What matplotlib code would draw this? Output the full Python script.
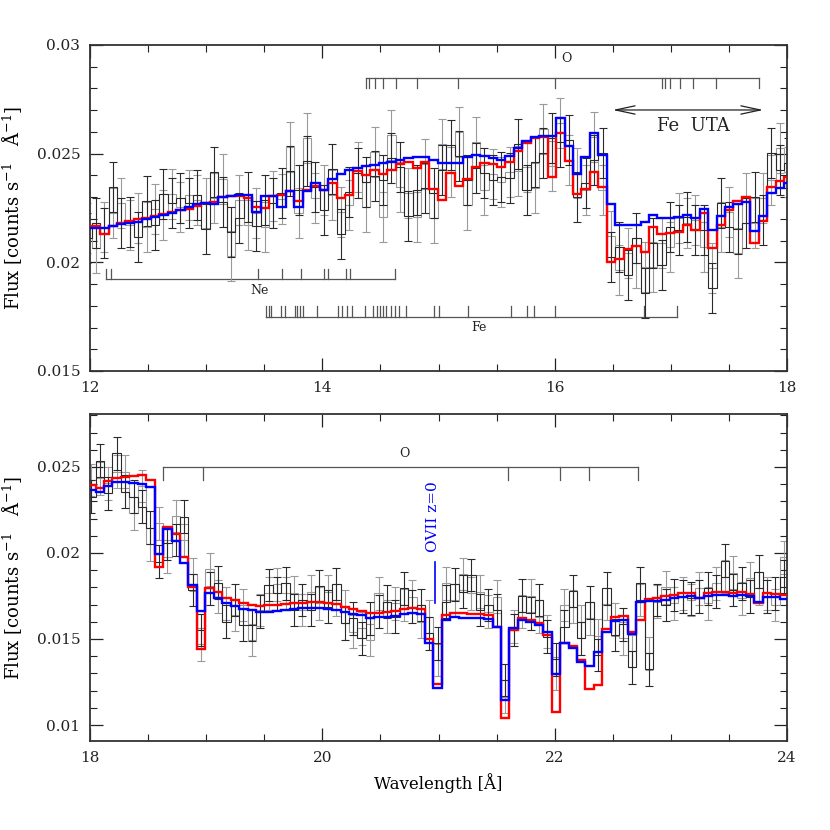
import numpy as np
import matplotlib
matplotlib.use('Agg')
import matplotlib.pyplot as plt
from matplotlib.ticker import MultipleLocator, FuncFormatter

plt.rcParams['font.family'] = ['DejaVu Serif', 'DejaVu Sans']
plt.rcParams['mathtext.fontset'] = 'dejavuserif'

# ---------------- binning (read from the step positions) ----------------
BIN_START = 12.014
BIN_WIDTH = 0.0727
top_edges = BIN_START + BIN_WIDTH * np.arange(-1, 84)
bot_edges = BIN_START + BIN_WIDTH * np.arange(82, 166)

# ---------------- top panel (12-18 A) ----------------
top_hi = [0.0216, 0.02180, 0.02164, 0.02345, 0.02272, 0.02187, 0.02203, 0.02282, 0.02245, 0.02314,
          0.02314, 0.02295, 0.02310, 0.02310, 0.02272, 0.02417, 0.02384, 0.02141, 0.02287, 0.02302,
          0.02226, 0.02287, 0.02305, 0.02318, 0.02529, 0.02333, 0.02574, 0.02348, 0.02333, 0.02429,
          0.02230, 0.02325, 0.02440, 0.02371, 0.02506, 0.02379, 0.02586, 0.02440, 0.02318, 0.02333,
          0.02453, 0.02321, 0.02543, 0.02540, 0.02598, 0.02379, 0.02552, 0.02410, 0.02405, 0.02391,
          0.02417, 0.02543, 0.02437, 0.02463, 0.02612, 0.02571, 0.02640, 0.02563, 0.02410, 0.02367,
          0.02578, 0.02502, 0.02123, 0.02072, 0.02042, 0.02111, 0.01980, 0.02088, 0.02088, 0.02164,
          0.02203, 0.02210, 0.02195, 0.02149, 0.01972, 0.02275, 0.02233, 0.02152, 0.02295, 0.02302,
          0.02295, 0.02502, 0.02525, 0.02456]
top_lo = [0.0211, 0.02064, 0.02134, 0.02226, 0.02180, 0.02172, 0.02118, 0.02164, 0.02172, 0.02218,
          0.02272, 0.02256, 0.02272, 0.02287, 0.02152, 0.02295, 0.02279, 0.02031, 0.02203, 0.02172,
          0.02167, 0.02164, 0.02275, 0.02290, 0.02420, 0.02229, 0.02466, 0.02295, 0.02241, 0.02310,
          0.02130, 0.02264, 0.02410, 0.02256, 0.02397, 0.02210, 0.02479, 0.02348, 0.02215, 0.02210,
          0.02341, 0.02206, 0.02425, 0.02417, 0.02491, 0.02264, 0.02433, 0.02333, 0.02379, 0.02371,
          0.02390, 0.02420, 0.02333, 0.02341, 0.02502, 0.02445, 0.02555, 0.02471, 0.02302, 0.02333,
          0.02471, 0.02333, 0.02026, 0.01965, 0.01942, 0.01995, 0.01857, 0.01980, 0.01988, 0.02072,
          0.02149, 0.02180, 0.02149, 0.02072, 0.01880, 0.02164, 0.02164, 0.02042, 0.02180, 0.02180,
          0.02195, 0.02379, 0.02425, 0.02417]
top_red = [0.02169, 0.02169, 0.02130, 0.02167, 0.02180, 0.02190, 0.02198, 0.02204, 0.02213, 0.02222,
           0.02230, 0.02241, 0.02245, 0.02261, 0.02275, 0.02279, 0.02302, 0.02305, 0.02305, 0.02295,
           0.02253, 0.02249, 0.02305, 0.02310, 0.02328, 0.02284, 0.02333, 0.02351, 0.02333, 0.02364,
           0.02295, 0.02310, 0.02420, 0.02402, 0.02425, 0.02405, 0.02425, 0.02453, 0.02463, 0.02436,
           0.02463, 0.02336, 0.02287, 0.02410, 0.02353, 0.02382, 0.02440, 0.02456, 0.02453, 0.02440,
           0.02460, 0.02512, 0.02548, 0.02574, 0.02578, 0.02394, 0.02594, 0.02468, 0.02313, 0.02337,
           0.02417, 0.02345, 0.02000, 0.02015, 0.02061, 0.02075, 0.02046, 0.02164, 0.02129, 0.02134,
           0.02141, 0.02172, 0.02149, 0.02226, 0.02065, 0.02172, 0.02241, 0.02282, 0.02302, 0.02091,
           0.02192, 0.02345, 0.02374, 0.02391]
top_blue = [0.02157, 0.02157, 0.02157, 0.02167, 0.02175, 0.02183, 0.02187, 0.02198, 0.02210, 0.02219,
            0.02225, 0.02241, 0.02256, 0.02268, 0.02275, 0.02267, 0.02299, 0.02307, 0.02308, 0.02308,
            0.02233, 0.02307, 0.02305, 0.02256, 0.02328, 0.02253, 0.02328, 0.02364, 0.02333, 0.02382,
            0.02407, 0.02425, 0.02436, 0.02443, 0.02449, 0.02456, 0.02462, 0.02471, 0.02480, 0.02483,
            0.02483, 0.02471, 0.02459, 0.02456, 0.02456, 0.02486, 0.02492, 0.02491, 0.02482, 0.02471,
            0.02489, 0.02528, 0.02558, 0.02578, 0.02583, 0.02581, 0.02666, 0.02535, 0.02407, 0.02486,
            0.02597, 0.02494, 0.02267, 0.02172, 0.02172, 0.02172, 0.02184, 0.02218, 0.02203, 0.02206,
            0.02210, 0.02216, 0.02206, 0.02244, 0.02149, 0.02213, 0.02253, 0.02267, 0.02276, 0.02144,
            0.02213, 0.02318, 0.02344, 0.02364]
top_err = 0.00115

# ---------------- bottom panel (18-24 A) ----------------
bot_hi = [0.02424, 0.02537, 0.02405, 0.02579, 0.02473, 0.02327, 0.02390, 0.02147, 0.02172, 0.02056,
          0.02215, 0.02211, 0.01876, 0.01552, 0.01905, 0.01828, 0.01707, 0.01727, 0.01698, 0.01581,
          0.01669, 0.01814, 0.01818, 0.01824, 0.01769, 0.01727, 0.01775, 0.01808, 0.01775, 0.01820,
          0.01688, 0.01620, 0.01562, 0.01620, 0.01765, 0.01717, 0.01707, 0.01795, 0.01746, 0.01698,
          0.01630, 0.01475, 0.01824, 0.01818, 0.01878, 0.01872, 0.01775, 0.01698, 0.01746, 0.01262,
          0.01572, 0.01752, 0.01752, 0.01727, 0.01543, 0.01382, 0.01698, 0.01779, 0.01601, 0.01713,
          0.01519, 0.01795, 0.01614, 0.01585, 0.01430, 0.01824, 0.01417, 0.01727, 0.01800, 0.01756,
          0.01765, 0.01736, 0.01795, 0.01795, 0.01824, 0.01955, 0.01886, 0.01824, 0.01853, 0.01891,
          0.01765, 0.01765, 0.01975]
bot_lo = [0.02327, 0.02434, 0.02347, 0.02473, 0.02357, 0.02231, 0.02269, 0.02050, 0.01950, 0.01979,
          0.02075, 0.02075, 0.01785, 0.01469, 0.01795, 0.01746, 0.01601, 0.01640, 0.01581, 0.01494,
          0.01659, 0.01765, 0.01765, 0.01765, 0.01669, 0.01669, 0.01669, 0.01707, 0.01688, 0.01727,
          0.01591, 0.01543, 0.01504, 0.01494, 0.01659, 0.01630, 0.01630, 0.01698, 0.01688, 0.01601,
          0.01533, 0.01378, 0.01717, 0.01727, 0.01775, 0.01765, 0.01669, 0.01659, 0.01669, 0.01165,
          0.01552, 0.01659, 0.01649, 0.01630, 0.01513, 0.01300, 0.01572, 0.01688, 0.01504, 0.01620,
          0.01407, 0.01703, 0.01523, 0.01504, 0.01335, 0.01727, 0.01324, 0.01717, 0.01698, 0.01707,
          0.01746, 0.01727, 0.01746, 0.01707, 0.01775, 0.01862, 0.01785, 0.01736, 0.01746, 0.01795,
          0.01746, 0.01698, 0.01862]
bot_red = [0.02395, 0.02380, 0.02419, 0.02438, 0.02444, 0.02448, 0.02452, 0.02424, 0.01917, 0.02149,
           0.02110, 0.01975, 0.01804, 0.01440, 0.01797, 0.01771, 0.01740, 0.01727, 0.01707, 0.01698,
           0.01694, 0.01696, 0.01698, 0.01703, 0.01707, 0.01711, 0.01715, 0.01715, 0.01711, 0.01703,
           0.01688, 0.01674, 0.01665, 0.01653, 0.01653, 0.01657, 0.01663, 0.01672, 0.01678, 0.01672,
           0.01498, 0.01236, 0.01640, 0.01653, 0.01649, 0.01645, 0.01643, 0.01640, 0.01572, 0.01040,
           0.01552, 0.01620, 0.01610, 0.01595, 0.01523, 0.01076, 0.01475, 0.01459, 0.01378, 0.01207,
           0.01233, 0.01556, 0.01630, 0.01632, 0.01539, 0.01610, 0.01732, 0.01740, 0.01750, 0.01758,
           0.01768, 0.01769, 0.01740, 0.01765, 0.01771, 0.01773, 0.01769, 0.01771, 0.01762, 0.01707,
           0.01765, 0.01764, 0.01758]
bot_blue = [0.02366, 0.02353, 0.02391, 0.02411, 0.02415, 0.02409, 0.02401, 0.02382, 0.01992, 0.02138,
            0.02072, 0.01940, 0.01814, 0.01665, 0.01769, 0.01736, 0.01711, 0.01694, 0.01674, 0.01669,
            0.01659, 0.01659, 0.01665, 0.01669, 0.01672, 0.01678, 0.01680, 0.01680, 0.01676, 0.01669,
            0.01657, 0.01645, 0.01638, 0.01624, 0.01626, 0.01630, 0.01634, 0.01643, 0.01649, 0.01645,
            0.01475, 0.01213, 0.01610, 0.01626, 0.01624, 0.01622, 0.01620, 0.01616, 0.01572, 0.01145,
            0.01562, 0.01610, 0.01597, 0.01581, 0.01539, 0.01296, 0.01479, 0.01446, 0.01368, 0.01343,
            0.01426, 0.01543, 0.01607, 0.01610, 0.01529, 0.01717, 0.01721, 0.01721, 0.01727, 0.01736,
            0.01746, 0.01748, 0.01736, 0.01750, 0.01754, 0.01756, 0.01752, 0.01756, 0.01750, 0.01713,
            0.01746, 0.01742, 0.01734]
bot_err = 0.00095

# ---------------- line identification markers ----------------
top_O_lines = [14.373, 14.404, 14.453, 14.525, 14.634, 14.817, 15.170, 16.003, 16.921, 16.950,
               16.993, 17.079, 17.193, 17.389, 17.761]
top_Ne_lines = [12.135, 12.178, 13.449, 13.650, 13.816, 14.017, 14.051, 14.201, 14.238, 14.625]
top_Fe_lines = [13.515, 13.537, 13.558, 13.644, 13.679, 13.769, 13.786, 13.808, 13.834, 13.954,
                14.139, 14.169, 14.212, 14.255, 14.367, 14.436, 14.471, 14.496, 14.522, 14.552,
                14.587, 14.625, 14.664, 14.724, 14.957, 15.000, 15.256, 15.624, 15.759, 15.825,
                16.003, 16.772, 17.050]
bot_O_lines = [18.626, 18.970, 21.601, 22.050, 22.298, 22.717]
fe_uta_range = (16.499, 17.796)
ovii_wave = 20.967

W, H = 830, 830
fig = plt.figure(figsize=(W / 100, H / 100), dpi=100)
ax1 = fig.add_axes([90 / W, 1 - 371 / H, 697 / W, 326 / H])
ax2 = fig.add_axes([90 / W, 1 - 741 / H, 697 / W, 327 / H])

GRAY = '#9a9a9a'
BLACK = '#2a2a2a'
MARK = '#555555'


def draw_panel(ax, edges, hi, lo, red, blue, err):
    edges = np.asarray(edges)
    hi = np.asarray(hi)
    lo = np.asarray(lo)
    centers = 0.5 * (edges[:-1] + edges[1:])
    idx = np.arange(len(hi))
    d1 = np.where(idx % 2 == 0, hi, lo)
    d2 = np.where(idx % 2 == 0, lo, hi)
    for d, c in ((d1, GRAY), (d2, BLACK)):
        ax.stairs(d, edges, baseline=None, color=c, lw=0.8, zorder=2)
        ax.errorbar(centers, d, yerr=err, fmt='none', ecolor=c, elinewidth=0.8,
                    capsize=2.6, capthick=0.8, zorder=2)
    ax.stairs(red, edges, baseline=None, color='#ff0000', lw=1.7, zorder=3)
    ax.stairs(blue, edges, baseline=None, color='#0000ff', lw=1.7, zorder=4)


def bracket(ax, lines, y_line, y_tick, label=None, lab_xy=None, size=9):
    ax.plot([min(lines), max(lines)], [y_line, y_line], color=MARK, lw=0.9, zorder=1)
    for w in lines:
        ax.plot([w, w], [y_line, y_tick], color=MARK, lw=0.9, zorder=1)
    if label:
        ax.text(lab_xy[0], lab_xy[1], label, ha='center', va='center', fontsize=size,
                color='#222222')


draw_panel(ax1, top_edges, top_hi, top_lo, top_red, top_blue, top_err)
draw_panel(ax2, bot_edges, bot_hi, bot_lo, bot_red, bot_blue, bot_err)

bracket(ax1, top_O_lines, 0.028495, 0.02801, 'O', (16.10, 0.02940))
bracket(ax1, top_Ne_lines, 0.01923, 0.01968, 'Ne', (13.457, 0.01870))
bracket(ax1, top_Fe_lines, 0.01750, 0.01799, 'Fe', (15.351, 0.01702))
ax1.annotate('', xy=(fe_uta_range[1], 0.02701), xytext=(fe_uta_range[0], 0.02701),
             arrowprops=dict(arrowstyle='<->,head_length=1.4,head_width=0.3',
                             color='#222222', lw=0.9, shrinkA=0, shrinkB=0))
ax1.text(17.19, 0.02627, 'Fe  UTA', ha='center', va='center', fontsize=13, color='#222222')

bracket(ax2, bot_O_lines, 0.02502, 0.02424, 'O', (20.709, 0.02576))
ax2.plot([ovii_wave, ovii_wave], [0.01708, 0.01949], color='#0000ff', lw=1.2, zorder=5)
ax2.text(20.953, 0.02211, 'OVII z=0', rotation=90, ha='center', va='center',
         fontsize=11, color='#0000ff')

fmt = FuncFormatter(lambda v, p: ('%g' % round(v, 4)))
for ax, xlim, ylim in ((ax1, (12, 18), (0.015, 0.03)), (ax2, (18, 24), (0.00907, 0.02808))):
    ax.set_xlim(*xlim)
    ax.set_ylim(*ylim)
    ax.xaxis.set_major_locator(MultipleLocator(2))
    ax.xaxis.set_minor_locator(MultipleLocator(0.5))
    ax.yaxis.set_major_locator(MultipleLocator(0.005))
    ax.yaxis.set_minor_locator(MultipleLocator(0.001))
    ax.yaxis.set_major_formatter(fmt)
    ax.tick_params(which='both', direction='in', top=True, right=True, labelsize=11,
                   colors='#222222')
    ax.tick_params(which='major', length=9.5, width=0.9, pad=7)
    ax.tick_params(which='minor', length=4.8, width=0.8)
    for s in ax.spines.values():
        s.set_linewidth(1.3)
        s.set_color('#333333')
    ax.set_ylabel('Flux [counts s$^{-1}$   Å$^{-1}$]', fontsize=13)
    ax.yaxis.set_label_coords(-0.095, 0.5)

ax2.set_xlabel('Wavelength [Å]', fontsize=12, labelpad=6)

fig.savefig('out.png', dpi=100)
